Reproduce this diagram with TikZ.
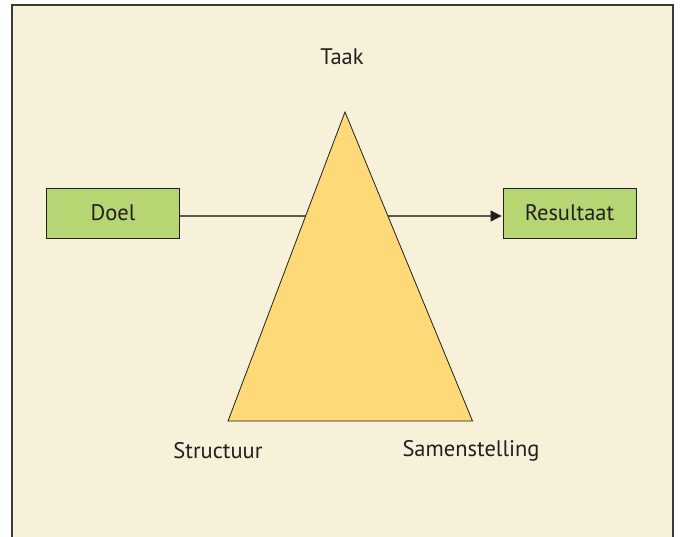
\documentclass[tikz,border=0pt]{standalone}
\usepackage{fontspec}
\setmainfont{PT Sans}
\usetikzlibrary{arrows.meta}
\definecolor{bgcream}{HTML}{F7F1DA}
\definecolor{trifill}{HTML}{FDD978}
\definecolor{boxgreen}{HTML}{B5D672}
\definecolor{linegray}{HTML}{5C5A50}
\definecolor{framegray}{HTML}{3A3A3A}
\definecolor{txt}{HTML}{231F20}
\tikzset{
  gbox/.style={draw=txt, line width=0.9pt, fill=boxgreen, minimum width=133pt, minimum height=50pt, inner sep=0pt, font=\fontsize{22.5}{26}\selectfont, text=txt},
  lbl/.style={font=\fontsize{22.5}{26}\selectfont, text=txt, inner sep=0pt}
}
\begin{document}
\begin{tikzpicture}[x=1pt,y=-1pt]
\useasboundingbox (0,0) rectangle (680,536);
\fill[bgcream] (12,5) rectangle (673,540);
\draw[framegray, line width=1.5pt] (12,545) -- (12,5) -- (673,5) -- (673,545);
\node[gbox] (doel) at (113,213) {Doel};
\node[gbox] (res) at (569.5,213) {Resultaat};
\draw[linegray, line width=1.1pt, -{Triangle[length=11pt,width=11pt,color=txt]}, shorten >=1pt]
  ([yshift=-3pt]doel.east) -- ([yshift=-3pt]res.west);
\coordinate (apex) at (345,112);
\coordinate (bl) at (228,421);
\coordinate (br) at (472.5,421);
\draw[txt, line width=0.8pt, fill=trifill] (apex) -- (bl) -- (br) -- cycle;
\node[lbl] (taak) at (342,57) {Taak};
\node[lbl] (struct) at (218,451) {Structuur};
\node[lbl] (samen) at (471,451) {Samenstelling};
\end{tikzpicture}
\end{document}
